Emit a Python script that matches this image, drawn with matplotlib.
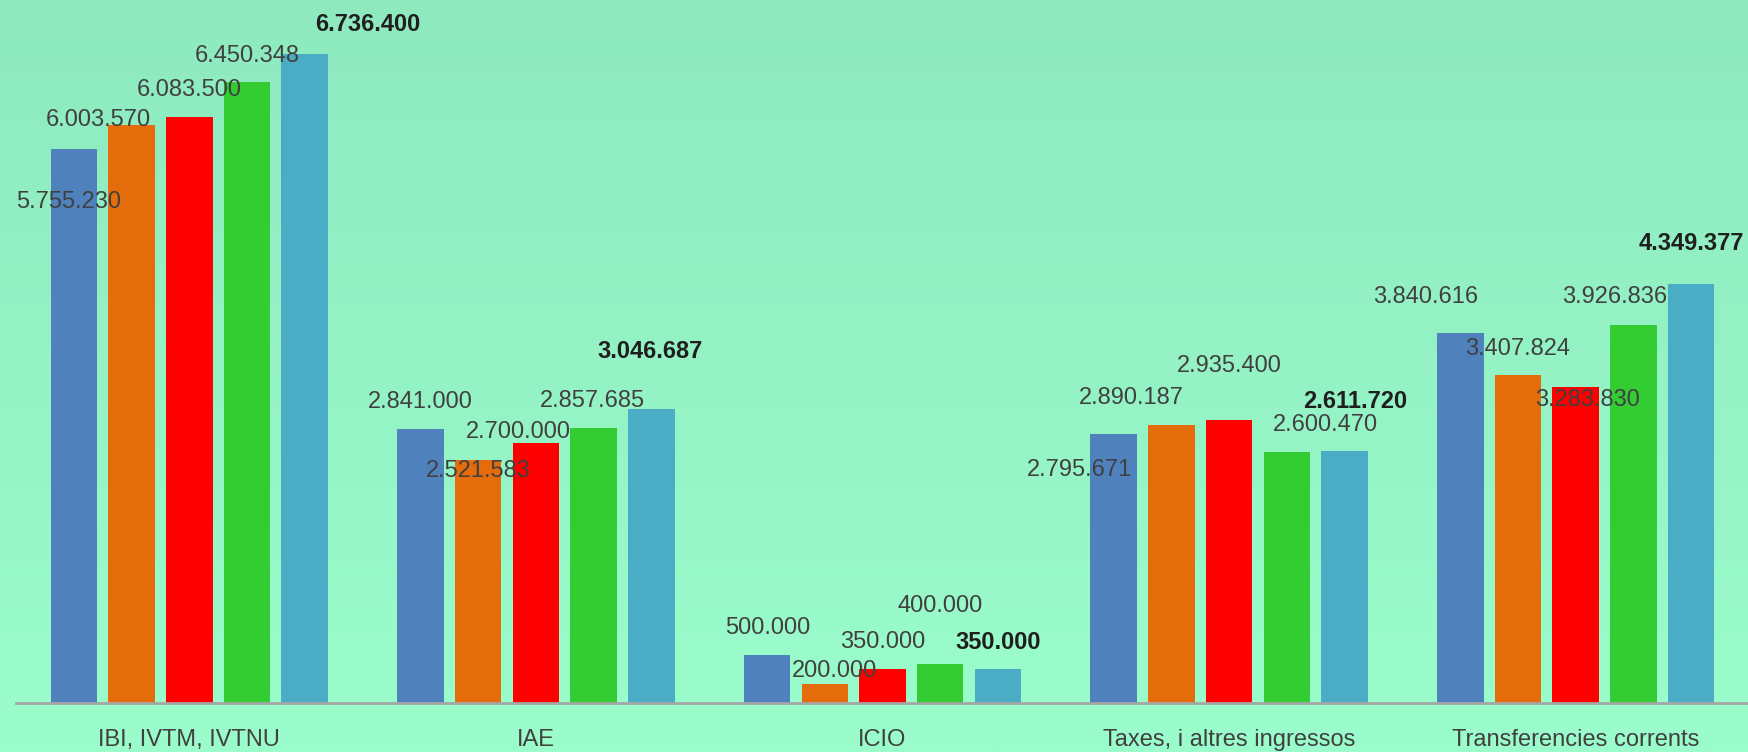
import matplotlib
matplotlib.use("Agg")
import matplotlib.pyplot as plt
import numpy as np

categories = ["IBI, IVTM, IVTNU", "IAE", "ICIO", "Taxes, i altres ingressos", "Transferencies corrents"]
s1 = [5755230, 2841000, 500000, 2795671, 3840616]
s2 = [6003570, 2521583, 200000, 2890187, 3407824]
s3 = [6083500, 2700000, 350000, 2935400, 3283830]
s4 = [6450348, 2857685, 400000, 2600470, 3926836]
s5 = [6736400, 3046687, 350000, 2611720, 4349377]
series = [s1, s2, s3, s4, s5]
colors = ["#4f81bd", "#e46c0a", "#ff0000", "#33cc33", "#4bacc6"]

# label offsets in pixels (dx, dy) per series, per category
offsets = [
    [(-5, -53), (0, 27), (1, 27), (-34, -36), (-35, 36)],
    [(-33, 5), (0, -11), (10, 13), (-40, 27), (0, 26)],
    [(0, 27), (-18, 11), (0, 27), (0, 54), (12, -13)],
    [(0, 26), (-1, 27), (0, 58), (39, 27), (-19, 28)],
    [(63, 29), (-1, 58), (0, 27), (11, 50), (0, 40)],
]

plt.rcParams["font.family"] = ["Liberation Sans", "DejaVu Sans"]


def fmt(v):
    return f"{v:,}".replace(",", ".")


fig = plt.figure(figsize=(17.49, 7.52), dpi=100)

# gradient background
bg = fig.add_axes([0, 0, 1, 1], zorder=0)
grad = np.linspace(0, 1, 256).reshape(-1, 1)
top = np.array([142, 233, 191]) / 255
bot = np.array([155, 253, 204]) / 255
img = top + (bot - top) * grad[:, :, None]
bg.imshow(img, aspect="auto", extent=[0, 1, 0, 1])
bg.axis("off")

ax = fig.add_axes([16 / 1749, 49 / 752, 1733 / 1749, 703 / 752], zorder=1)
ax.patch.set_alpha(0)

x = np.arange(len(categories))
pitch = 0.1665
width = 0.134
for i, (vals, c) in enumerate(zip(series, colors)):
    xs = x + (i - 2) * pitch
    ax.bar(xs, vals, width=width, color=c, zorder=2)
    for j, v in enumerate(vals):
        dx, dy = offsets[i][j]
        bold = i == 4
        ax.annotate(fmt(v), (xs[j], v), xytext=(dx, dy), textcoords="offset pixels",
                    ha="center", va="center", fontsize=17,
                    fontweight="bold" if bold else "normal",
                    color="#1f1f1f" if bold else "#404040", zorder=3)

ax.set_xlim(-0.5, 4.5)
ax.set_ylim(0, 7296900)
ax.set_xticks(x)
ax.set_xticklabels(categories, fontsize=17, color="#404040")
ax.tick_params(axis="x", length=0, pad=19)
ax.set_yticks([])
for s in ["top", "right", "left"]:
    ax.spines[s].set_visible(False)
ax.spines["bottom"].set_color("#a6a6a6")
ax.spines["bottom"].set_linewidth(2)
ax.spines["bottom"].set_zorder(3)

fig.savefig("out.png", dpi=100)
